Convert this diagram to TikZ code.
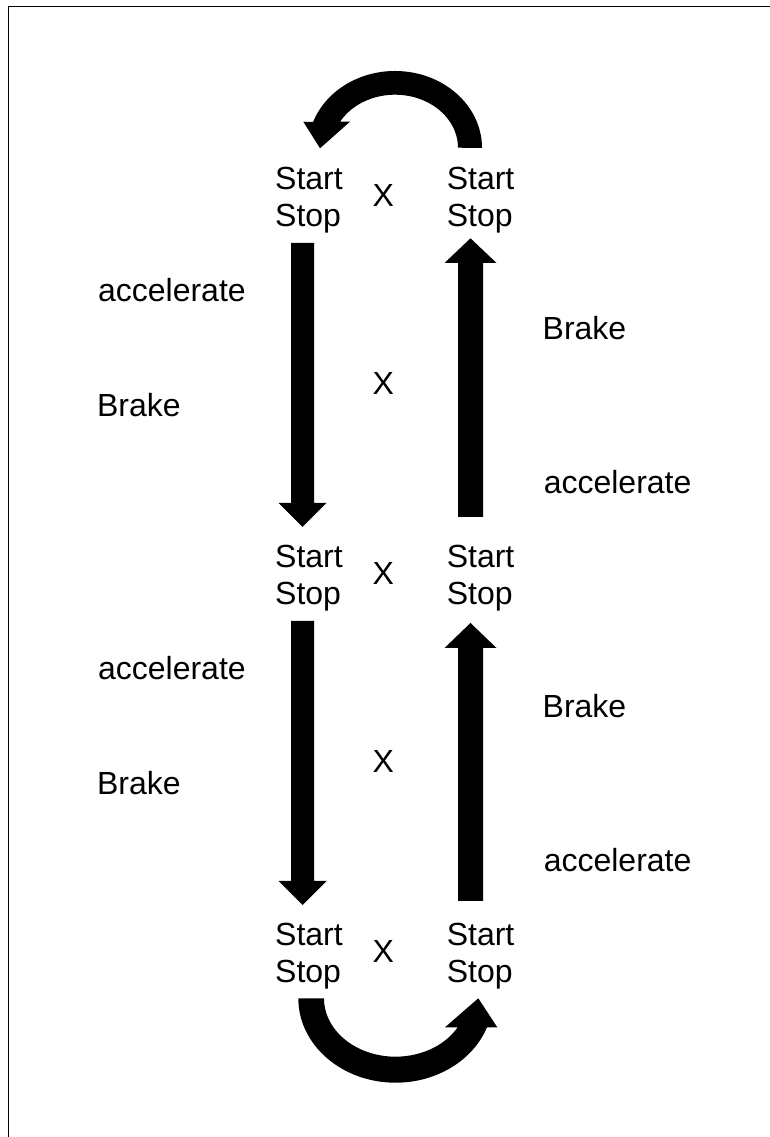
\documentclass[tikz,border=0pt]{standalone}
\usepackage{fontspec}
\setmainfont{Liberation Sans}
\begin{document}
\begin{tikzpicture}[x=1pt,y=1pt,
  lbl/.style={font=\fontsize{32}{36}\selectfont, inner sep=0pt, outer sep=0pt, anchor=base west},
  frameline/.style={line width=1.4pt, line join=miter},
  blockarrow/.style={fill=black, draw=none}]
\useasboundingbox (0,0) rectangle (770,1137);
\fill[white] (0,0) rectangle (770,1137);
% frame (only left and top edges are visible)
\draw[frameline] (8.7,-5) -- (8.7,1130.3) -- (780,1130.3);

% row 1
\node[lbl] (s1l) at (275.2,947) {Start};
\node[lbl] (p1l) at (275.2,910.5) {Stop};
\node[lbl] (x1) at (372.5,930) {X};
\node[lbl] (s1r) at (446.8,947) {Start};
\node[lbl] (p1r) at (446.8,910.5) {Stop};
% row 2
\node[lbl] (s2l) at (275.2,569) {Start};
\node[lbl] (p2l) at (275.2,532.5) {Stop};
\node[lbl] (x2) at (372.5,552) {X};
\node[lbl] (s2r) at (446.8,569) {Start};
\node[lbl] (p2r) at (446.8,532.5) {Stop};
% row 3
\node[lbl] (s3l) at (275.2,191) {Start};
\node[lbl] (p3l) at (275.2,154.5) {Stop};
\node[lbl] (x3) at (372.5,174) {X};
\node[lbl] (s3r) at (446.8,191) {Start};
\node[lbl] (p3r) at (446.8,154.5) {Stop};
% middle X
\node[lbl] (xm1) at (372.5,742) {X};
\node[lbl] (xm2) at (372.5,364) {X};
% left labels
\node[lbl] (acc1l) at (98.1,835.3) {accelerate};
\node[lbl] (brk1l) at (97,720) {Brake};
\node[lbl] (acc2l) at (98.1,457.3) {accelerate};
\node[lbl] (brk2l) at (97,342) {Brake};
% right labels
\node[lbl] (brk1r) at (542.7,797) {Brake};
\node[lbl] (acc1r) at (543.8,643) {accelerate};
\node[lbl] (brk2r) at (542.7,419) {Brake};
\node[lbl] (acc2r) at (543.8,265) {accelerate};

% straight block arrows
\fill[blockarrow] (291,894) -- (314,894) -- (314,634) -- (326.5,634) -- (302.5,610) -- (278.5,634) -- (291,634) -- cycle;
\fill[blockarrow] (291,516) -- (314,516) -- (314,256) -- (326.5,256) -- (302.5,232) -- (278.5,256) -- (291,256) -- cycle;
\fill[blockarrow] (458,620) -- (483,620) -- (483,874) -- (496.5,874) -- (470.5,898.7) -- (444.5,874) -- (458,874) -- cycle;
\fill[blockarrow] (458,236) -- (483,236) -- (483,489) -- (496.5,489) -- (470.5,514) -- (444.5,489) -- (458,489) -- cycle;

% top curved arrow
\fill[blockarrow] (482,989) arc[start angle=0,end angle=160.3,x radius=87,y radius=77]
  -- (303.3,1015.3) -- (320,988.7) -- (350,1015.3) -- (340.1,1015.3)
  arc[start angle=150.6,end angle=0,x radius=63,y radius=53] -- cycle;

% bottom curved arrow
\fill[blockarrow] (298.3,138.7) arc[start angle=180,end angle=339.9,x radius=97.3,y radius=84.4]
  -- (497.3,109.7) -- (478.3,138.7) -- (445,109.7) -- (457.7,109.7)
  arc[start angle=330.2,end angle=180,x radius=71.6,y radius=58.4] -- cycle;
\end{tikzpicture}
\end{document}
